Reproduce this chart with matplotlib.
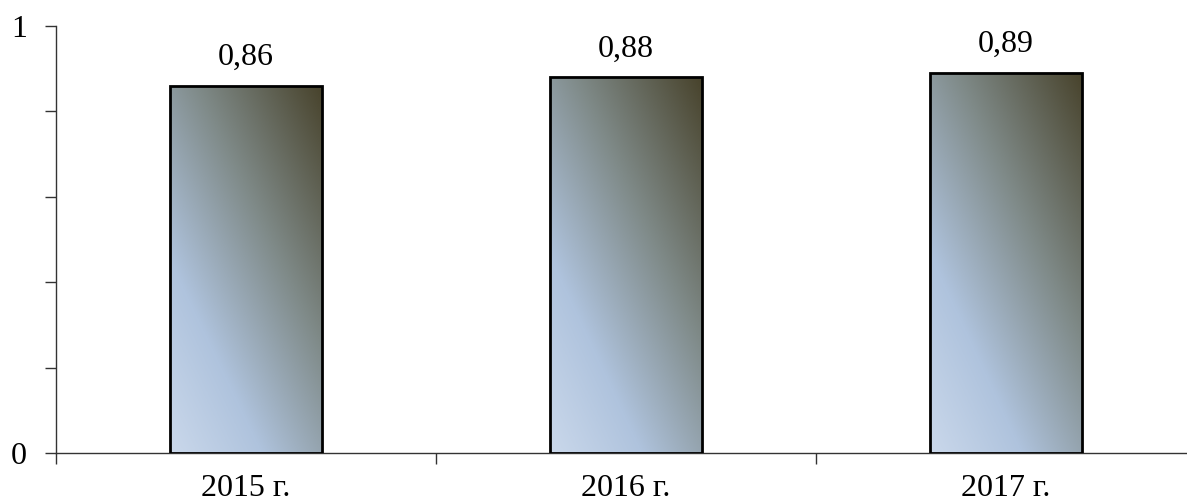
import numpy as np
import matplotlib.pyplot as plt
from matplotlib.colors import LinearSegmentedColormap

# Данные
years = ["2015 г.", "2016 г.", "2017 г."]
values = [0.86, 0.88, 0.89]
value_labels = ["0,86", "0,88", "0,89"]

plt.rcParams['font.family'] = ['Liberation Serif', 'DejaVu Serif']

fig = plt.figure(figsize=(11.87, 5.04), dpi=100)
ax = fig.add_axes([56 / 1187, 51 / 504, 1140 / 1187, 427 / 504])

# Градиент заливки столбцов: светло-голубой снизу слева -> тёмно-оливковый сверху справа
cmap = LinearSegmentedColormap.from_list(
    "bar_grad",
    [(0.0, "#cad8eb"), (0.28, "#afc3dd"), (0.62, "#7f8a88"), (1.0, "#48432c")])

x = np.arange(len(years))
width = 0.40
bars = ax.bar(x, values, width=width, facecolor="none", edgecolor="black",
              linewidth=2, zorder=3)

# Градиент в пикселях столбца
W, H = 153.0, 370.0
u = np.linspace(0, 1, 200)
v = np.linspace(0, 1, 400)
U, V = np.meshgrid(u, v)
T = (167 * U * W + 80 * V * H) / (167 * W + 80 * H)

for bar in bars:
    x0, y0 = bar.get_x(), bar.get_y()
    w, h = bar.get_width(), bar.get_height()
    im = ax.imshow(T, cmap=cmap, origin="lower", aspect="auto",
                   extent=[x0, x0 + w, y0, y0 + h], zorder=2, interpolation="bilinear")
    im.set_clip_path(bar)

for xi, val, lab in zip(x, values, value_labels):
    ax.text(xi, val + 0.032, lab, ha="center", va="bottom", fontsize=23)

ax.set_xlim(-0.5, len(years) - 0.5)
ax.set_ylim(0, 1)

ax.set_yticks([0, 0.2, 0.4, 0.6, 0.8, 1.0])
ax.set_yticklabels(["0", "", "", "", "", "1"], fontsize=23)
ax.set_xticks(np.arange(len(years) + 1) - 0.5)
ax.set_xticklabels([])
ax.set_xticks(x, minor=True)
ax.set_xticklabels(years, minor=True, fontsize=23)
ax.tick_params(axis="x", which="minor", length=0, pad=15)
ax.tick_params(axis="x", which="major", length=8, width=1, color="#333333")
ax.tick_params(axis="y", length=8, width=1, color="#333333", pad=13)

for side in ["top", "right"]:
    ax.spines[side].set_visible(False)
for side in ["left", "bottom"]:
    ax.spines[side].set_color("#333333")
    ax.spines[side].set_linewidth(1)

fig.savefig("out.png", dpi=100)
